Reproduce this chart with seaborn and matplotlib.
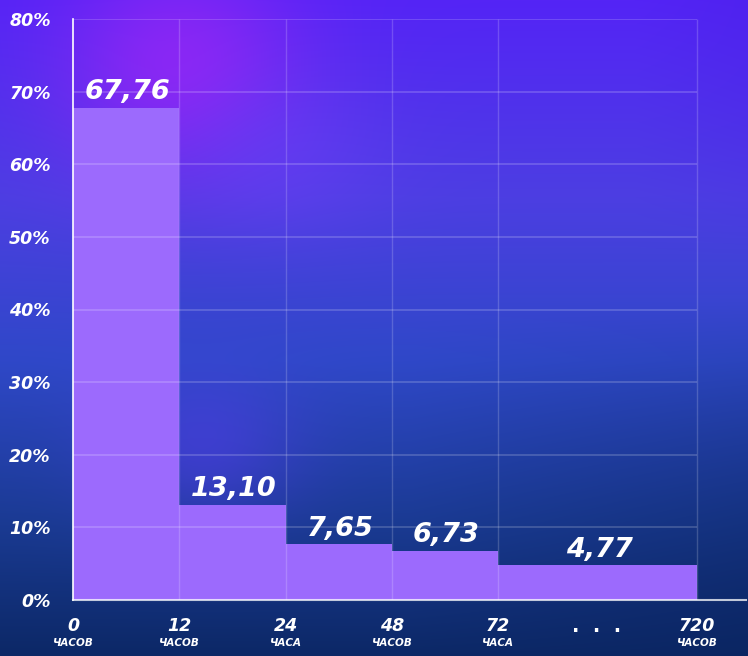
import numpy as np
import pandas as pd
import matplotlib.pyplot as plt
import matplotlib.colors as mcolors
import seaborn as sns

# ---------------------------------------------------------------------
# Data
# ---------------------------------------------------------------------
hour_labels = ["0", "12", "24", "48", "72", "720"]
hour_words = ["ЧАСОВ", "ЧАСОВ", "ЧАСА", "ЧАСОВ", "ЧАСА", "ЧАСОВ"]
shares = [67.76, 13.10, 7.65, 6.73, 4.77]
y_ticks = [0, 10, 20, 30, 40, 50, 60, 70, 80]

# ---------------------------------------------------------------------
# Style
# ---------------------------------------------------------------------
sns.set_theme(style="white")
plt.rcParams["font.family"] = ["DejaVu Sans"]

W, H = 748, 656
fig = plt.figure(figsize=(W / 100, H / 100), dpi=100)

# gradient background: vertical ramp plus a few soft glows
yy, xx = np.mgrid[0:1:H * 1j, 0:1:W * 1j]
stops = [0.0, 0.3, 0.55, 0.8, 1.0]
stop_cols = [mcolors.to_rgb(c) for c in ["#5424f6", "#4c3ee2", "#2f48c8", "#1a3a92", "#0c2866"]]
img = np.stack([np.interp(yy, stops, [c[i] for c in stop_cols]) for i in range(3)], axis=-1)


def blend(base, color, w):
    c = np.array(mcolors.to_rgb(color))
    return base * (1 - w[..., None]) + c * w[..., None]


img = blend(img, "#9426f5", np.exp(-(((xx - 0.24) / 0.16) ** 2 + ((yy - 0.1) / 0.17) ** 2)) * 0.85)
img = blend(img, "#6a42f8", np.exp(-(((xx - 0.38) / 0.14) ** 2 + ((yy - 0.24) / 0.12) ** 2)) * 0.4)
img = blend(img, "#5c3cf8", np.exp(-(((xx - 0.27) / 0.13) ** 2 + ((yy - 0.68) / 0.12) ** 2)) * 0.45)
img = blend(img, "#0a2460", np.clip((xx - 0.55) * 2.2, 0, 1) * np.clip((yy - 0.45) * 1.8, 0, 1) * 0.6)
img = blend(img, "#4a20e8", np.clip((xx - 0.85) * 6, 0, 1) * np.clip(1 - yy * 2.5, 0, 1) * 0.5)

ax_bg = fig.add_axes([0, 0, 1, 1])
ax_bg.imshow(img, aspect="auto", extent=[0, 1, 0, 1])
ax_bg.axis("off")
ax_bg.set_zorder(-1)

ax = fig.add_axes([73 / W, (H - 600) / H, (746 - 73) / W, 581 / H])
ax.set_facecolor("none")

# bin edges in axis units (last bar spans two slots)
edges = [0, 1, 2, 3, 4, 5.87]
centers = [(a + b) / 2 for a, b in zip(edges[:-1], edges[1:])]
df = pd.DataFrame({"pos": centers, "share": shares})

sns.histplot(
    data=df,
    x="pos",
    weights="share",
    bins=edges,
    color="#9c6afd",
    alpha=1,
    linewidth=0,
    ax=ax,
    zorder=2,
)

ax.set_xlim(0, 673 / 106.3)
ax.set_ylim(0, 80)
ax.set_xlabel("")
ax.set_ylabel("")

# grid
ax.hlines(y_ticks[1:], 0, edges[-1], color=(1, 1, 1, 0.2), lw=1.2, zorder=3)
ax.vlines(edges[1:], 0, 80, color=(1, 1, 1, 0.18), lw=1, zorder=3)

for s in ["top", "right"]:
    ax.spines[s].set_visible(False)
ax.spines["left"].set_color("white")
ax.spines["left"].set_linewidth(1.2)
ax.spines["bottom"].set_color((1, 1, 1, 0.75))
ax.spines["bottom"].set_linewidth(1.5)
ax.spines["left"].set_zorder(4)
ax.spines["bottom"].set_zorder(4)

ax.set_yticks(y_ticks)
ax.set_yticklabels([f"{t}%" for t in y_ticks])
for lab in ax.get_yticklabels():
    lab.set_fontweight("bold")
    lab.set_fontstyle("italic")
    lab.set_color("white")
    lab.set_fontsize(12.5)
ax.tick_params(axis="y", length=0, pad=16)

ax.set_xticks(edges)
ax.set_xticklabels([])
ax.tick_params(axis="x", length=9, width=1, color=(1, 1, 1, 0.3), direction="out")

tr = ax.get_xaxis_transform()
for x, num, word in zip(edges, hour_labels, hour_words):
    ax.text(x, -0.045, num, transform=tr, ha="center", va="center",
            color="white", fontsize=12.5, fontweight="bold", fontstyle="italic")
    ax.text(x, -0.074, word, transform=tr, ha="center", va="center",
            color="white", fontsize=7.5, fontweight="bold", fontstyle="italic")
ax.text((597 - 73) / 106.3, -0.045, ".  .  .", transform=tr, ha="center",
        va="center", color="white", fontsize=14, fontweight="bold")

# value labels
for c, v in zip(centers, shares):
    ax.annotate(f"{v:.2f}".replace(".", ","), (c, v), xytext=(1, 2),
                textcoords="offset points", ha="center", va="bottom",
                color="white", fontsize=19.5, fontweight="bold",
                fontstyle="italic", zorder=5)

fig.savefig("out.png", dpi=100)
